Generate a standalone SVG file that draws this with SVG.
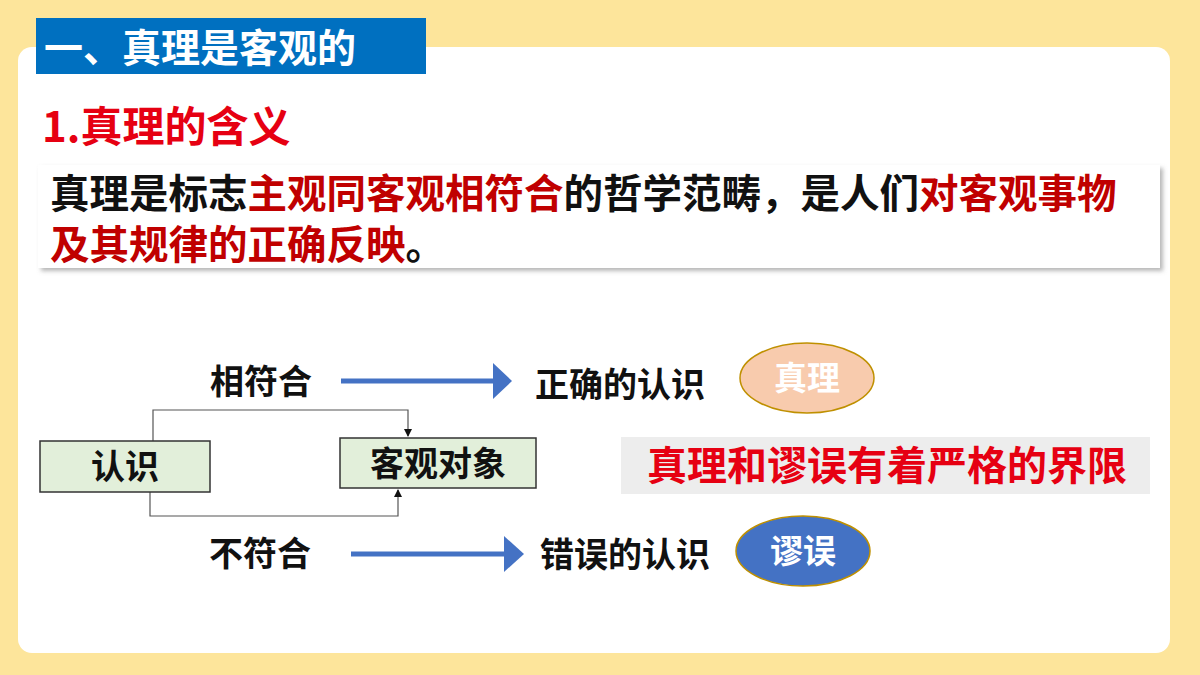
<svg xmlns="http://www.w3.org/2000/svg" width="1200" height="675" viewBox="0 0 1200 675">
<defs>
<style>
text{font-family:"Noto Sans CJK SC","Liberation Serif",serif;font-weight:bold}
.box{fill:#e2efda;stroke:#333;stroke-width:1.5}
.ln{fill:none;stroke:#555;stroke-width:1.2}
.big{stroke:#4472c4;stroke-width:5}
.lbl{font-size:34px;fill:#111}
</style>
<marker id="sm" markerWidth="8" markerHeight="8" refX="7" refY="4" orient="auto" markerUnits="userSpaceOnUse"><path d="M0,0 L8,4 L0,8 z" fill="#111"/></marker>
<filter id="sh" x="-5%" y="-10%" width="110%" height="130%"><feDropShadow dx="3" dy="3" stdDeviation="2" flood-color="#888" flood-opacity="0.6"/></filter>
</defs>
<rect width="1200" height="675" fill="#fde59b"/>
<rect x="18" y="47" width="1152" height="606" rx="14" fill="#fff"/>
<rect x="36" y="18" width="390" height="56" fill="#0070c0"/>
<text x="44" y="62" font-size="39" fill="#fff">一、真理是客观的</text>
<text x="42" y="142" font-size="42" fill="#e60012">1.真理的含义</text>
<rect x="38" y="165" width="1122" height="103" fill="#fff" filter="url(#sh)"/>
<text x="50" y="208" font-size="39.5" fill="#111">真理是标志<tspan fill="#c00000">主观同客观相符合</tspan>的哲学范畴，是人们<tspan fill="#c00000">对客观事物</tspan></text>
<text x="50" y="259" font-size="39.5" fill="#111"><tspan fill="#c00000">及其规律的正确反映</tspan>。</text>
<g id="connectors">
<path class="ln" d="M153,441 V410 H408 V436" marker-end="url(#sm)"/>
<path class="ln" d="M150,492 V516 H398 V490" marker-end="url(#sm)"/>
<line class="big" x1="341" y1="381" x2="495" y2="381"/>
<path d="M493,363 L512,381 L493,399 z" fill="#4472c4"/>
<line class="big" x1="351" y1="554" x2="506" y2="554"/>
<path d="M504,536 L524,554 L504,572 z" fill="#4472c4"/>
</g>
<g id="n-renshi"><rect class="box" x="40" y="441" width="170" height="51"/><text x="125" y="479" text-anchor="middle" class="lbl">认识</text></g>
<g id="n-keguan"><rect class="box" x="340" y="438" width="196" height="50"/><text x="438" y="476" text-anchor="middle" class="lbl">客观对象</text></g>
<g id="t1"><text x="261" y="394" text-anchor="middle" class="lbl">相符合</text></g>
<g id="t2"><text x="260" y="566" text-anchor="middle" class="lbl">不符合</text></g>
<g id="t3"><text x="620" y="397" text-anchor="middle" class="lbl">正确的认识</text></g>
<g id="t4"><text x="625" y="567" text-anchor="middle" class="lbl">错误的认识</text></g>
<g id="n-zhenli"><ellipse cx="807" cy="378" rx="67" ry="35" fill="#f8cbad" stroke="#bf9000" stroke-width="1.5"/><text x="807" y="390" text-anchor="middle" font-size="33" fill="#fff">真理</text></g>
<g id="n-miuwu"><ellipse cx="803" cy="551" rx="67" ry="35" fill="#4472c4" stroke="#bf9000" stroke-width="1.5"/><text x="803" y="563" text-anchor="middle" font-size="33" fill="#fff">谬误</text></g>
<g id="n-jiexian"><rect x="621" y="437" width="529" height="57" fill="#ededed"/><text x="887" y="480" text-anchor="middle" font-size="40" fill="#e60012">真理和谬误有着严格的界限</text></g>
</svg>
